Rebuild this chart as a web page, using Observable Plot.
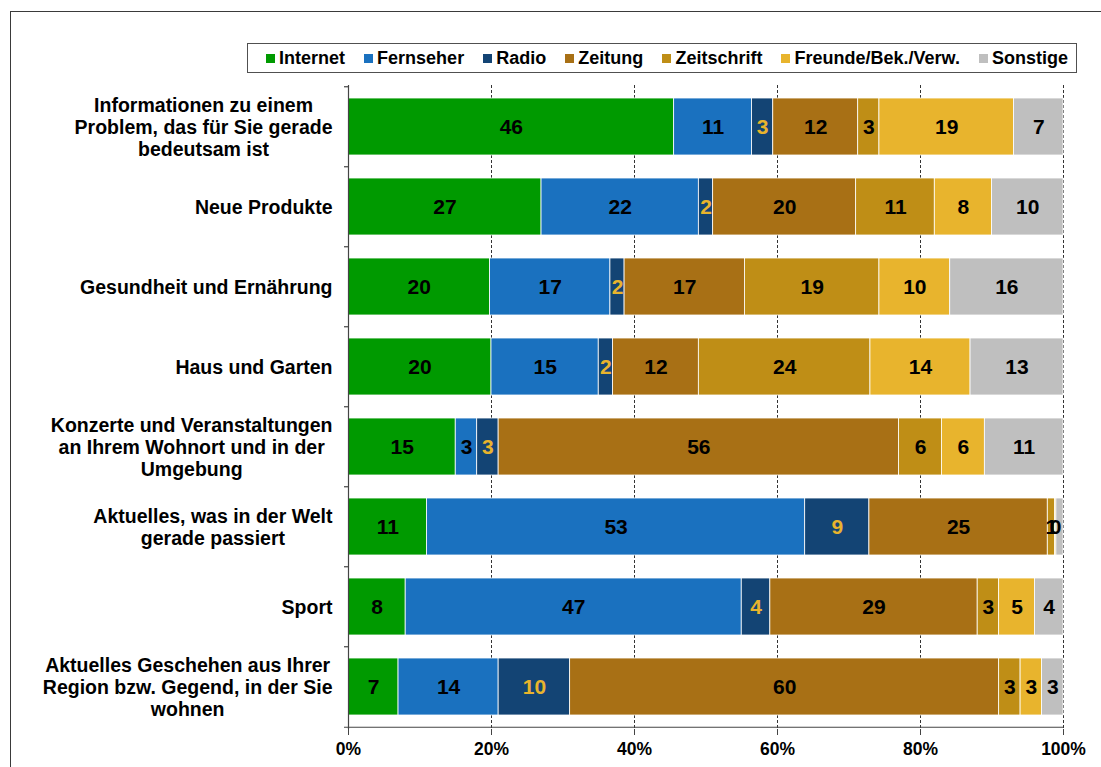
<!DOCTYPE html>
<html><head><meta charset="utf-8">
<script src="https://cdn.jsdelivr.net/npm/d3@7"></script>
<script src="https://cdn.jsdelivr.net/npm/@observablehq/plot@0.6"></script>
<style>
html,body{margin:0;padding:0;background:#fff;overflow:hidden;}
#wrap{position:relative;width:1101px;height:767px;overflow:hidden;font-family:"Liberation Sans",Arial,sans-serif;}
#frame{position:absolute;left:10px;top:11px;width:1200px;height:900px;border:1.5px solid #3a3a3a;}
#legend{position:absolute;left:247px;top:43px;width:830px;height:30px;box-sizing:border-box;border:1.5px solid #505050;display:flex;align-items:center;justify-content:space-between;padding-left:18px;padding-right:8px;font-weight:bold;font-size:18px;color:#000;background:#fff;}
.item{display:flex;align-items:center;white-space:nowrap;}
.sw{width:9px;height:9px;margin-right:4px;}
#chart{position:absolute;left:0;top:0;}
</style></head><body><div id="wrap"><div id="frame"></div><div id="chart"></div><div id="legend"></div></div>
<script>
// ---- data ----
const categories = [
  "Informationen zu einem\nProblem, das für Sie gerade\nbedeutsam ist",
  "Neue Produkte",
  "Gesundheit und Ernährung",
  "Haus und Garten",
  "Konzerte und Veranstaltungen\nan Ihrem Wohnort und in der\nUmgebung",
  "Aktuelles, was in der Welt\ngerade passiert",
  "Sport",
  "Aktuelles Geschehen aus Ihrer\nRegion bzw. Gegend, in der Sie\nwohnen"
];
const seriesNames = ["Internet","Fernseher","Radio","Zeitung","Zeitschrift","Freunde/Bek./Verw.","Sonstige"];
const seriesColors = ["#009a00","#1a71bf","#134474","#a87015","#bf8e16","#e8b42d","#bfbfbf"];
const internet    = [46, 27, 20, 20, 15, 11,  8,  7];
const fernseher   = [11, 22, 17, 15,  3, 53, 47, 14];
const radio       = [ 3,  2,  2,  2,  3,  9,  4, 10];
const zeitung     = [12, 20, 17, 12, 56, 25, 29, 60];
const zeitschrift = [ 3, 11, 19, 24,  6,  1,  3,  3];
const freunde     = [19,  8, 10, 14,  6, 0.2, 5,  3];
const sonstige    = [ 7, 10, 16, 13, 11,  1,  4,  3];
// labels not shown in the original (category index, series name)
const hiddenLabels = [[5, "Sonstige"]];
const xTicks = [0, 0.2, 0.4, 0.6, 0.8, 1];

const seriesValues = [internet, fernseher, radio, zeitung, zeitschrift, freunde, sonstige];
const rows = [];
categories.forEach((c, i) => {
  seriesNames.forEach((s, j) => {
    const v = seriesValues[j][i];
    const hidden = hiddenLabels.some(([ci, sn]) => ci === i && sn === s);
    rows.push({cat: c, series: s, value: v, label: hidden ? "" : String(Math.round(v))});
  });
});

// ---- layout ----
const W = 1101, H = 767, mt = 85, mb = 38, ml = 348, mr = 38;
const step = (H - mt - mb) / categories.length;
const pxPerUnit = 1 / (W - ml - mr);

const catFont = 19.5;
const ctx = document.createElement("canvas").getContext("2d");
ctx.font = `bold ${catFont}px "Liberation Sans"`;
const catMarks = categories.map(c => {
  const w = d3.max(c.split("\n"), l => ctx.measureText(l).width);
  return Plot.text([c], {
    y: d => d, x: 0, text: d => d, textAnchor: "middle", lineAnchor: "middle",
    dx: -16 - w / 2, lineHeight: 1.13, fontSize: catFont, fontWeight: "bold", fill: "#000"
  });
});

const stackOpts = {y: "cat", x: "value", z: "series", order: seriesNames, offset: "normalize"};

const chart = Plot.plot({
  width: W, height: H,
  marginTop: mt, marginBottom: mb, marginLeft: ml, marginRight: mr,
  style: {fontFamily: "Liberation Sans, Arial, sans-serif", background: "transparent"},
  x: {domain: [0, 1], axis: null, label: null},
  y: {domain: categories, paddingInner: 0.285, paddingOuter: 0.1425, axis: null, label: null},
  color: {domain: seriesNames, range: seriesColors},
  marks: [
    Plot.ruleX(xTicks.slice(1), {stroke: "#333", strokeWidth: 1, strokeDasharray: "3,2"}),
    Plot.barX(rows, Plot.stackX({...stackOpts, fill: "series", stroke: "white", strokeWidth: 0.8})),
    Plot.text(rows, Plot.stackX({...stackOpts, text: "label", fontSize: 21, fontWeight: "bold",
      fill: d => d.series === "Radio" ? "#e8b42d" : "#000"})),
    Plot.ruleX([0], {stroke: "#444", strokeWidth: 1.2}),
    Plot.ruleY(categories, {x1: -4 * pxPerUnit, x2: 0, dy: -step / 2, stroke: "#444", strokeWidth: 1.2}),
    Plot.ruleY(categories.slice(-1), {x1: -4 * pxPerUnit, x2: 1, dy: step / 2, stroke: "#444", strokeWidth: 1.2}),
    Plot.axisX({ticks: xTicks, tickFormat: d3.format(".0%"), tickSize: 6, tickPadding: 7, label: null,
      fontSize: 17.5, fontWeight: "bold", stroke: "#444", fill: "#000"}),
    ...catMarks
  ]
});
document.getElementById("chart").appendChild(chart);

// legend
const leg = document.getElementById("legend");
seriesNames.forEach((s, j) => {
  const it = document.createElement("div"); it.className = "item";
  const sw = document.createElement("div"); sw.className = "sw"; sw.style.background = seriesColors[j];
  const tx = document.createElement("span"); tx.textContent = s;
  it.appendChild(sw); it.appendChild(tx); leg.appendChild(it);
});
</script></body></html>
